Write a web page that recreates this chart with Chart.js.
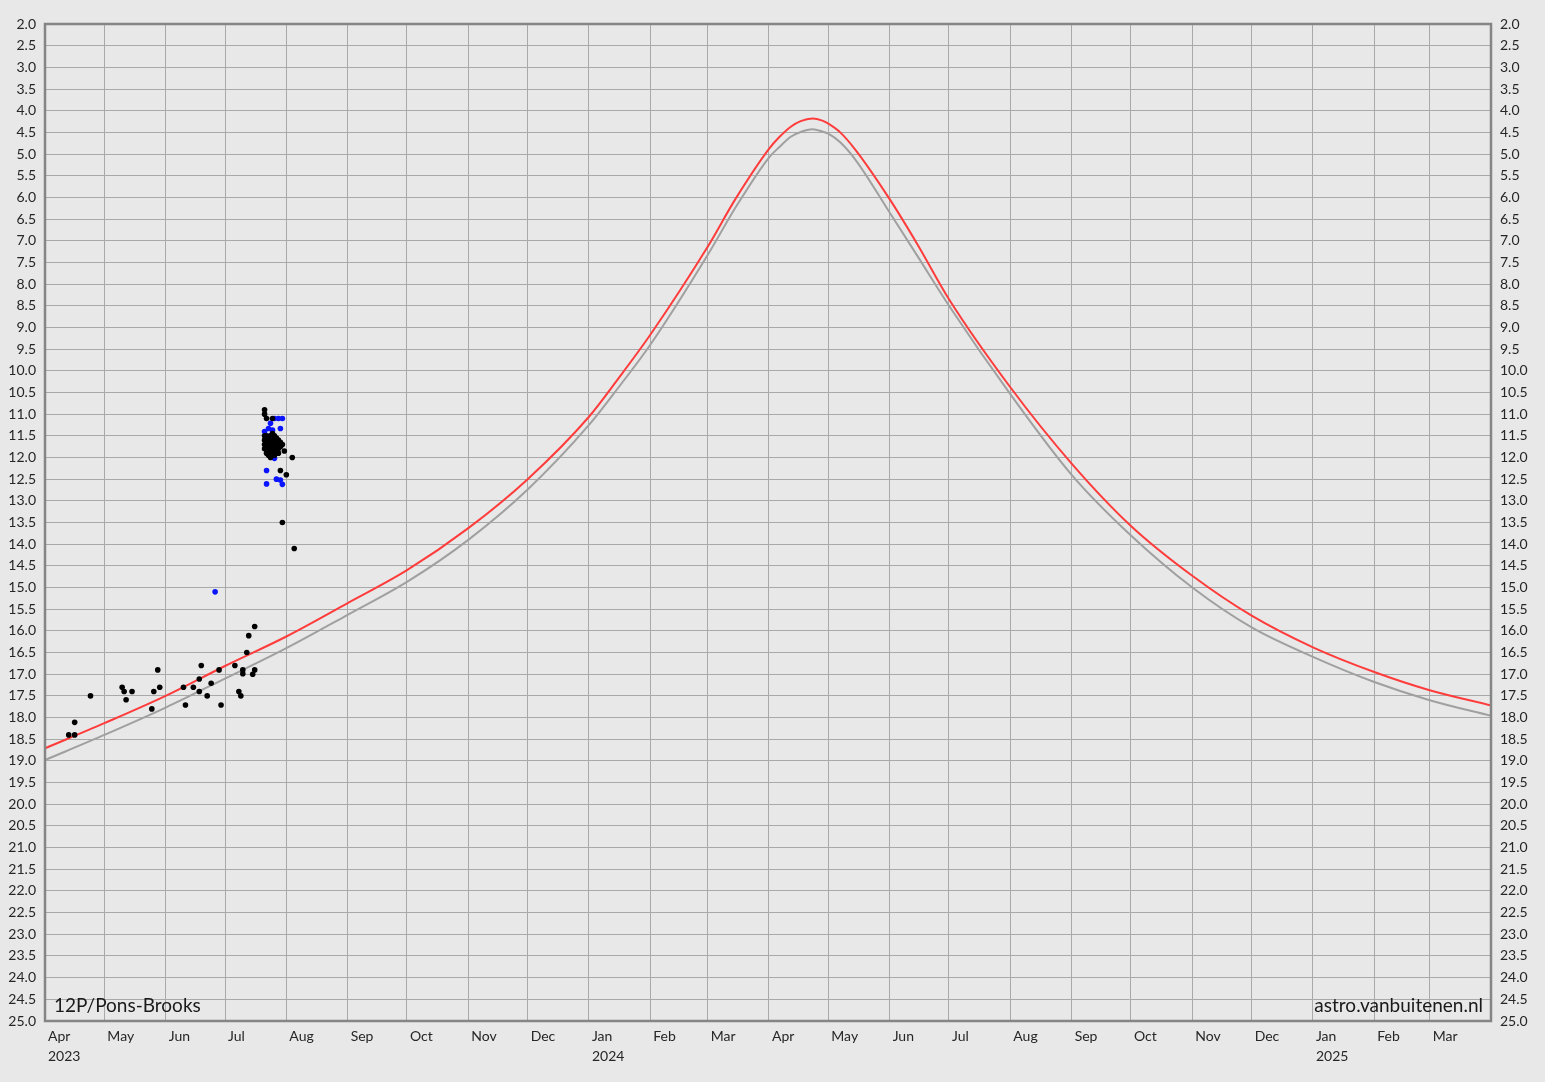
<!DOCTYPE html>
<html>
<head>
<meta charset="utf-8">
<script src="https://cdn.jsdelivr.net/npm/chart.js@4.4.1/dist/chart.umd.min.js"></script>
<style>
  html, body { margin: 0; padding: 0; background: #e8e8e8; }
  #wrap { width: 1545px; height: 1082px; }
</style>
</head>
<body>
<div id="wrap"><canvas id="lightCurve" width="1545" height="1082"></canvas></div>
<script>
// Month ticks along the bottom (first day of each month)
const tickDates = ['2023-04-01','2023-05-01','2023-06-01','2023-07-01','2023-08-01','2023-09-01',
  '2023-10-01','2023-11-01','2023-12-01','2024-01-01','2024-02-01','2024-03-01','2024-04-01',
  '2024-05-01','2024-06-01','2024-07-01','2024-08-01','2024-09-01','2024-10-01','2024-11-01',
  '2024-12-01','2025-01-01','2025-02-01','2025-03-01','2025-04-01'];
const monthLabels = ['Apr','May','Jun','Jul','Aug','Sep','Oct','Nov','Dec','Jan','Feb','Mar','Apr',
  'May','Jun','Jul','Aug','Sep','Oct','Nov','Dec','Jan','Feb','Mar',''];
const yearLabels = ['2023','','','','','','','','','2024','','','','','','','','','','','','2025','','',''];

// Predicted magnitude curves
const curveDates = ['2023-04-01','2023-05-01','2023-06-01','2023-07-01','2023-08-01','2023-09-01',
  '2023-10-01','2023-11-01','2023-12-01','2024-01-01','2024-01-16','2024-02-01','2024-03-01',
  '2024-03-15','2024-04-01','2024-04-06','2024-04-12','2024-04-17','2024-04-23','2024-04-28',
  '2024-05-01','2024-05-07','2024-05-15','2024-06-01','2024-06-15','2024-07-01','2024-08-01',
  '2024-09-01','2024-10-01','2024-11-01','2024-12-01','2025-01-01','2025-02-01','2025-03-01',
  '2025-04-01'];
const redMag = [18.71, 18.13, 17.50, 16.81, 16.13, 15.36, 14.60, 13.63, 12.50, 11.06, 10.17, 9.17, 7.14,
  6.04, 4.88, 4.62, 4.37, 4.24, 4.18, 4.23, 4.30, 4.50, 4.92, 6.04, 7.08, 8.35, 10.38,
  12.14, 13.58, 14.73, 15.65, 16.38, 16.95, 17.37, 17.72];
const grayMag = [18.98, 18.40, 17.77, 17.10, 16.40, 15.63, 14.87, 13.90, 12.74, 11.25, 10.38, 9.40, 7.33,
  6.24, 5.08, 4.85, 4.60, 4.49, 4.43, 4.48, 4.53, 4.73, 5.15, 6.35, 7.35, 8.50, 10.54,
  12.40, 13.80, 15.00, 15.92, 16.60, 17.18, 17.60, 17.96];

// Observations (black)
const blackDates = ['2023-04-13','2023-04-16','2023-04-16','2023-04-24','2023-05-10','2023-05-11',
  '2023-05-12','2023-05-15','2023-05-25','2023-05-26','2023-05-28','2023-05-29','2023-06-10',
  '2023-06-11','2023-06-15','2023-06-18','2023-06-18','2023-06-19','2023-06-22','2023-06-24',
  '2023-06-28','2023-06-29','2023-07-06','2023-07-08','2023-07-09','2023-07-10','2023-07-10',
  '2023-07-12','2023-07-13','2023-07-15','2023-07-16','2023-07-16',
  '2023-07-21','2023-07-21','2023-07-21','2023-07-21','2023-07-21','2023-07-21',
  '2023-07-22','2023-07-22','2023-07-22','2023-07-22','2023-07-22','2023-07-22',
  '2023-07-23','2023-07-23','2023-07-23','2023-07-23','2023-07-23',
  '2023-07-24','2023-07-24','2023-07-24','2023-07-24','2023-07-24',
  '2023-07-25','2023-07-25','2023-07-25','2023-07-25','2023-07-25',
  '2023-07-26','2023-07-26','2023-07-26','2023-07-26','2023-07-26',
  '2023-07-27','2023-07-27','2023-07-27','2023-07-27',
  '2023-07-28','2023-07-28','2023-07-28','2023-07-28',
  '2023-07-29','2023-07-29','2023-07-29','2023-07-30','2023-07-30','2023-07-31',
  '2023-08-01','2023-08-04','2023-08-05'];
const blackMag = [18.40, 18.40, 18.11, 17.50, 17.30, 17.40, 17.59, 17.40, 17.80, 17.40, 16.90, 17.30, 17.30,
  17.71, 17.30, 17.40, 17.11, 16.80, 17.50, 17.21, 16.90, 17.71, 16.80, 17.40, 17.50, 16.90, 16.99,
  16.50, 16.11, 17.00, 16.90, 15.90,
  10.90, 11.00, 11.50, 11.60, 11.70, 11.80,
  11.10, 11.50, 11.60, 11.70, 11.90, 11.75,
  11.55, 11.65, 11.80, 11.95, 11.70,
  11.50, 11.60, 11.70, 11.85, 12.00,
  11.10, 11.45, 11.60, 11.75, 11.90,
  11.50, 11.60, 11.70, 11.80, 11.95,
  11.55, 11.70, 11.85, 11.65,
  11.60, 11.80, 11.90, 11.75,
  11.65, 11.75, 12.30, 11.70, 13.50, 11.85,
  12.40, 12.00, 14.10];

// Observations (blue)
const blueDates = ['2023-06-26','2023-07-21','2023-07-22','2023-07-22','2023-07-23','2023-07-24',
  '2023-07-24','2023-07-25','2023-07-26','2023-07-26','2023-07-27','2023-07-27','2023-07-28',
  '2023-07-29','2023-07-29','2023-07-30','2023-07-30'];
const blueMag = [15.10, 11.40, 12.30, 12.61, 11.33, 11.21, 11.50, 11.37, 12.02, 11.10, 12.50, 11.60,
  11.10, 12.52, 11.33, 11.10, 12.62];

const startMs = Date.UTC(2023, 3, 1);
function dayOf(s) {
  const [y, m, d] = s.split('-').map(Number);
  return (Date.UTC(y, m - 1, d) - startMs) / 86400000;
}
function toPoints(dates, mags) {
  return dates.map((d, i) => ({ x: dayOf(d), y: mags[i] }));
}
const tickDays = tickDates.map(dayOf);

const fontFamily = 'Lato, "Open Sans", sans-serif';
const gridColor = '#a9a9a9';

// plot frame and the two captions in the bottom corners
const framePlugin = {
  id: 'frame',
  afterDraw(chart) {
    const { ctx, chartArea: a } = chart;
    ctx.save();
    ctx.strokeStyle = '#858585';
    ctx.lineWidth = 2.5;
    ctx.strokeRect(a.left, a.top, a.right - a.left, a.bottom - a.top);
    ctx.fillStyle = '#1a1a1a';
    ctx.font = '19px ' + fontFamily;
    ctx.textBaseline = 'alphabetic';
    ctx.textAlign = 'left';
    ctx.fillText('12P/Pons-Brooks', a.left + 9, a.bottom - 9);
    ctx.textAlign = 'right';
    ctx.fillText('astro.vanbuitenen.nl', a.right - 8, a.bottom - 9);
    ctx.restore();
  }
};

const yTicks = {
  stepSize: 0.5,
  autoSkip: false,
  color: '#262626',
  font: { family: fontFamily, size: 14 },
  callback: v => v.toFixed(1)
};

new Chart(document.getElementById('lightCurve').getContext('2d'), {
  type: 'scatter',
  data: {
    datasets: [
      {
        label: 'blue',
        data: toPoints(blueDates, blueMag),
        backgroundColor: '#0a14ff',
        borderWidth: 0,
        pointRadius: 2.8,
        order: 1
      },
      {
        label: 'black',
        data: toPoints(blackDates, blackMag),
        backgroundColor: '#000000',
        borderWidth: 0,
        pointRadius: 2.8,
        order: 0
      },
      {
        label: 'gray',
        data: toPoints(curveDates, grayMag),
        showLine: true,
        borderColor: '#a0a0a0',
        borderWidth: 2,
        pointRadius: 0,
        cubicInterpolationMode: 'monotone',
        order: 3
      },
      {
        label: 'red',
        data: toPoints(curveDates, redMag),
        showLine: true,
        borderColor: '#ff3c3c',
        borderWidth: 2,
        pointRadius: 0,
        cubicInterpolationMode: 'monotone',
        order: 2
      }
    ]
  },
  options: {
    responsive: false,
    animation: false,
    layout: { padding: { top: 24, left: 0, right: 0, bottom: 0 } },
    plugins: { legend: { display: false }, tooltip: { enabled: false } },
    scales: {
      x: {
        type: 'linear',
        min: 0,
        max: tickDays[tickDays.length - 1],
        afterBuildTicks: scale => { scale.ticks = tickDays.map(v => ({ value: v })); },
        afterFit: scale => { scale.height = 61; },
        grid: { color: gridColor, lineWidth: 1, drawTicks: false },
        border: { display: false },
        ticks: {
          autoSkip: false,
          maxRotation: 0,
          align: 'start',
          labelOffset: 3,
          padding: 5,
          color: '#262626',
          font: { family: fontFamily, size: 14, lineHeight: 1.45 },
          callback: (v, i) => yearLabels[i] ? [monthLabels[i], yearLabels[i]] : monthLabels[i]
        }
      },
      y: {
        position: 'left',
        reverse: true,
        min: 2,
        max: 25,
        afterFit: scale => { scale.width = 45; },
        grid: { color: gridColor, lineWidth: 1, drawTicks: false },
        border: { display: false },
        ticks: Object.assign({ padding: 9 }, yTicks)
      },
      y2: {
        position: 'right',
        reverse: true,
        min: 2,
        max: 25,
        afterFit: scale => { scale.width = 54; },
        grid: { display: false, drawTicks: false },
        border: { display: false },
        ticks: Object.assign({ padding: 9 }, yTicks)
      }
    }
  },
  plugins: [framePlugin]
});
</script>
</body>
</html>
